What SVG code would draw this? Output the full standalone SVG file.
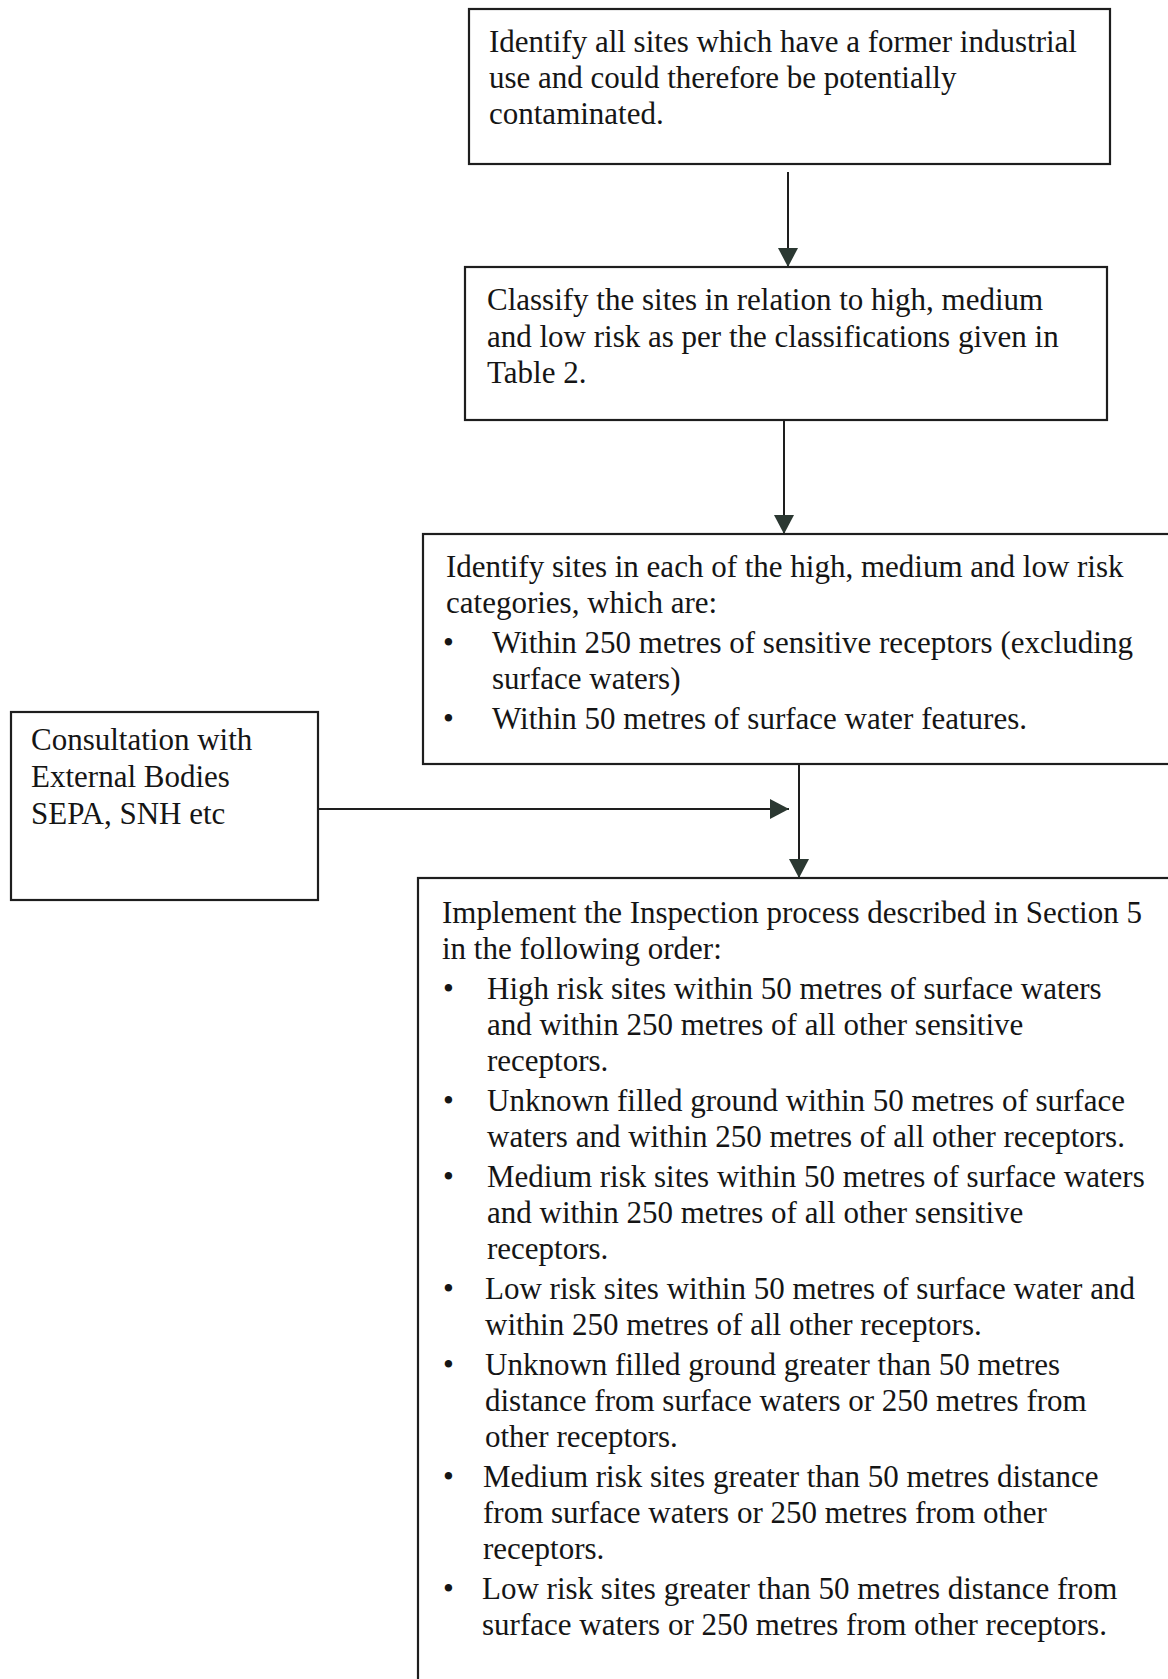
<svg xmlns="http://www.w3.org/2000/svg" width="1168" height="1679" viewBox="0 0 1168 1679">
<style>
  .box { fill: #ffffff; stroke: #1e1e1e; stroke-width: 2.2; }
  .t { font-family: "Liberation Serif", "Times New Roman", serif; font-size: 31px; fill: #151515; }
  .conn { stroke: #1e1e1e; stroke-width: 2; fill: none; }
</style>
<defs>
  <marker id="arr" markerUnits="userSpaceOnUse" markerWidth="20" markerHeight="20" refX="19" refY="10" orient="auto">
    <path d="M0,0 L19,10 L0,20 Z" fill="#2b3832"/>
  </marker>
</defs>
<rect width="1168" height="1679" fill="#ffffff"/>

<g id="node-identify-sites">
  <rect class="box" x="469" y="9" width="641" height="155"/>
  <text class="t" x="489" y="52">Identify all sites which have a former industrial</text>
  <text class="t" x="489" y="88">use and could therefore be potentially</text>
  <text class="t" x="489" y="124">contaminated.</text>
</g>

<g id="node-classify">
  <rect class="box" x="465" y="267" width="642" height="153"/>
  <text class="t" x="487" y="310">Classify the sites in relation to high, medium</text>
  <text class="t" x="487" y="347">and low risk as per the classifications given in</text>
  <text class="t" x="487" y="383">Table 2.</text>
</g>

<g id="node-identify-categories">
  <rect class="box" x="423" y="534" width="760" height="230"/>
  <text class="t" x="446" y="577">Identify sites in each of the high, medium and low risk</text>
  <text class="t" x="446" y="613">categories, which are:</text>
  <text class="t" x="443" y="653">•</text>
  <text class="t" x="492" y="653">Within 250 metres of sensitive receptors (excluding</text>
  <text class="t" x="492" y="689">surface waters)</text>
  <text class="t" x="443" y="729">•</text>
  <text class="t" x="492" y="729">Within 50 metres of surface water features.</text>
</g>

<g id="node-consultation">
  <rect class="box" x="11" y="712" width="307" height="188"/>
  <text class="t" x="31" y="750">Consultation with</text>
  <text class="t" x="31" y="787">External Bodies</text>
  <text class="t" x="31" y="824">SEPA, SNH etc</text>
</g>

<g id="node-implement">
  <rect class="box" x="418" y="878" width="770" height="830"/>
  <text class="t" x="442" y="923">Implement the Inspection process described in Section 5</text>
  <text class="t" x="442" y="959">in the following order:</text>
  <text class="t" x="443" y="999">•</text>
  <text class="t" x="487" y="999">High risk sites within 50 metres of surface waters</text>
  <text class="t" x="487" y="1035">and within 250 metres of all other sensitive</text>
  <text class="t" x="487" y="1071">receptors.</text>
  <text class="t" x="443" y="1111">•</text>
  <text class="t" x="487" y="1111">Unknown filled ground within 50 metres of surface</text>
  <text class="t" x="487" y="1147">waters and within 250 metres of all other receptors.</text>
  <text class="t" x="443" y="1187">•</text>
  <text class="t" x="487" y="1187">Medium risk sites within 50 metres of surface waters</text>
  <text class="t" x="487" y="1223">and within 250 metres of all other sensitive</text>
  <text class="t" x="487" y="1259">receptors.</text>
  <text class="t" x="443" y="1299">•</text>
  <text class="t" x="485" y="1299">Low risk sites within 50 metres of surface water and</text>
  <text class="t" x="485" y="1335">within 250 metres of all other receptors.</text>
  <text class="t" x="443" y="1375">•</text>
  <text class="t" x="485" y="1375">Unknown filled ground greater than 50 metres</text>
  <text class="t" x="485" y="1411">distance from surface waters or 250 metres from</text>
  <text class="t" x="485" y="1447">other receptors.</text>
  <text class="t" x="443" y="1487">•</text>
  <text class="t" x="483" y="1487">Medium risk sites greater than 50 metres distance</text>
  <text class="t" x="483" y="1523">from surface waters or 250 metres from other</text>
  <text class="t" x="483" y="1559">receptors.</text>
  <text class="t" x="443" y="1599">•</text>
  <text class="t" x="482" y="1599">Low risk sites greater than 50 metres distance from</text>
  <text class="t" x="482" y="1635">surface waters or 250 metres from other receptors.</text>
</g>

<g id="connectors">
  <line class="conn" x1="788" y1="172" x2="788" y2="267" marker-end="url(#arr)"/>
  <line class="conn" x1="784" y1="420" x2="784" y2="534" marker-end="url(#arr)"/>
  <line class="conn" x1="799" y1="764" x2="799" y2="878" marker-end="url(#arr)"/>
  <line class="conn" x1="318" y1="809" x2="789" y2="809" marker-end="url(#arr)"/>
</g>
</svg>
